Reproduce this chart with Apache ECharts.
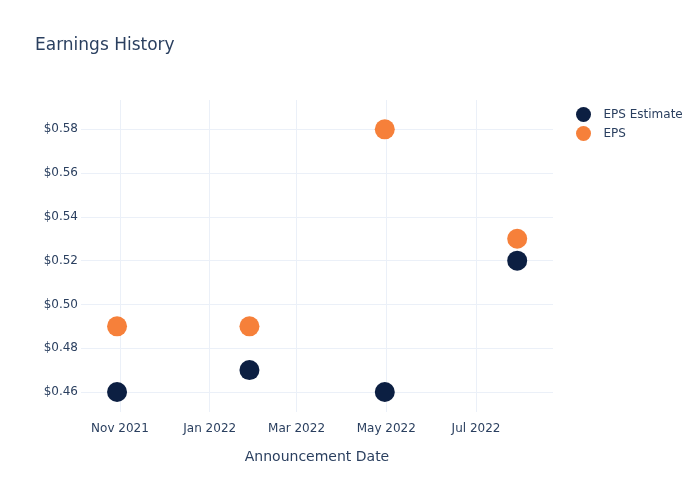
<!DOCTYPE html>
<html>
<head>
<meta charset="utf-8">
<script src="https://cdn.jsdelivr.net/npm/echarts@6/dist/echarts.min.js"></script>
<style>html,body{margin:0;padding:0;background:#fff;}#c{width:700px;height:500px;}</style>
</head>
<body>
<div id="c"></div>
<script>
const dates = ['2021-10-30', '2022-01-28', '2022-04-30', '2022-07-29'];
const epsEstimate = [0.46, 0.47, 0.46, 0.52];
const eps = [0.49, 0.49, 0.58, 0.53];
const monthNames = ['Jan','Feb','Mar','Apr','May','Jun','Jul','Aug','Sep','Oct','Nov','Dec'];

const FONT = 'DejaVu Sans';
const TXT = '#2a3f5f';
const GRID = '#EBF0F8';

function toTs(s) { const p = s.split('-').map(Number); return new Date(p[0], p[1] - 1, p[2]).getTime(); }

const chart = echarts.init(document.getElementById('c'), null, { renderer: 'canvas' });
chart.setOption({
  animation: false,
  backgroundColor: '#ffffff',
  title: {
    text: 'Earnings History',
    left: 30, top: 32,
    textStyle: { fontFamily: FONT, fontSize: 17, fontWeight: 'normal', color: TXT }
  },
  legend: {
    orient: 'vertical',
    left: 571, top: 102,
    itemWidth: 30, itemHeight: 15, itemGap: 4,
    icon: 'circle',
    textStyle: { fontFamily: FONT, fontSize: 12, color: TXT },
    data: ['EPS Estimate', 'EPS']
  },
  grid: { left: 81, right: 147, top: 100, bottom: 88, containLabel: false },
  xAxis: {
    type: 'time',
    min: new Date(2021, 9, 5, 12).getTime(),
    max: new Date(2022, 7, 22, 8).getTime(),
    splitNumber: 5,
    name: 'Announcement Date',
    nameLocation: 'middle',
    nameGap: 38,
    nameTextStyle: { fontFamily: FONT, fontSize: 14, color: TXT },
    axisLine: { show: false },
    axisTick: { show: false },
    axisLabel: {
      fontFamily: FONT, fontSize: 12, color: TXT, margin: 11,
      showMinLabel: false, showMaxLabel: false,
      formatter: function (v) { const d = new Date(v); return monthNames[d.getMonth()] + ' ' + d.getFullYear(); }
    },
    splitLine: { show: true, showMinLine: false, showMaxLine: false, lineStyle: { color: GRID, width: 1 } }
  },
  yAxis: {
    type: 'value',
    min: 0.45087,
    max: 0.59339,
    splitNumber: 7,
    axisLine: { show: false },
    axisTick: { show: false },
    axisLabel: {
      fontFamily: FONT, fontSize: 12, color: TXT, margin: 3,
      showMinLabel: false, showMaxLabel: false,
      formatter: function (v) { return '$' + v.toFixed(2); }
    },
    splitLine: { show: true, showMinLine: false, showMaxLine: false, lineStyle: { color: GRID, width: 1 } }
  },
  series: [
    {
      name: 'EPS Estimate', type: 'scatter', symbol: 'circle', symbolSize: 20,
      itemStyle: { color: '#0c1f42', opacity: 1 },
      data: dates.map((d, i) => [toTs(d), epsEstimate[i]])
    },
    {
      name: 'EPS', type: 'scatter', symbol: 'circle', symbolSize: 20,
      itemStyle: { color: '#f6803a', opacity: 1 },
      data: dates.map((d, i) => [toTs(d), eps[i]])
    }
  ]
});
</script>
</body>
</html>
